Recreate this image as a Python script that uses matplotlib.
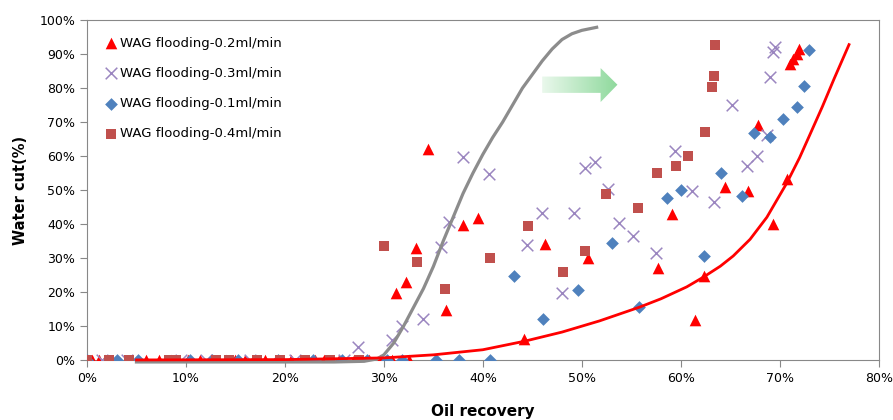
import numpy as np
import matplotlib
matplotlib.use('Agg')
import matplotlib.pyplot as plt
from matplotlib.patches import Polygon
from matplotlib.ticker import PercentFormatter

# WAG flooding-0.2ml/min (red triangles), oil recovery % / water cut %
rec_02 = [0, 0.5, 1.2, 1.8, 6.0, 7.3, 8.5, 10.2, 11.4, 12.5, 14.0, 15.0, 16.0, 18.0,
          20.6, 23.0, 24.0, 25.5, 27.0, 28.5, 29.6, 30.8, 32.5,
          31.2, 32.2, 33.2, 34.5, 36.3, 38.0, 39.5, 44.2, 46.3, 50.6, 57.7, 59.1,
          61.4, 62.3, 64.5, 66.8, 67.8, 69.3, 70.7, 71.0, 71.3, 71.7, 71.9]
wc_02 = [0, 0, 0, 0, 0, 0, 0, 0, 0, 0, 0, 0, 0, 0,
         0, 0, 0, 0, 0, 0, 0, 0, 0,
         19.6, 22.8, 33.0, 62.0, 14.6, 39.8, 41.8, 6.1, 34.0, 30.0, 27.0, 43.0,
         11.9, 24.8, 51.0, 49.8, 69.0, 40.0, 53.3, 87.0, 88.6, 90.0, 91.5]

# WAG flooding-0.3ml/min (purple crosses)
rec_03 = [1.5, 4.0, 9.5, 12.0, 16.5, 21.0, 26.0,
          27.4, 30.8, 31.8, 34.0, 35.8, 36.6, 38.0, 40.6, 44.5, 46.0, 48.0, 49.2,
          50.3, 51.3, 52.6, 53.8, 55.2, 57.5, 59.4, 61.1, 63.4, 65.2, 66.7, 67.7,
          68.7, 69.0, 69.3, 69.5]
wc_03 = [0, 0, 0, 0, 0, 0, 0,
         3.8, 6.0, 10.0, 12.0, 33.2, 40.6, 59.8, 54.6, 33.8, 43.2, 19.8, 43.2,
         56.6, 58.2, 50.2, 40.2, 36.6, 31.4, 61.4, 49.8, 46.4, 75.0, 57.0, 60.0,
         66.2, 83.4, 90.6, 92.2]

# WAG flooding-0.1ml/min (blue diamonds)
rec_01 = [0, 3.0, 5.2, 10.4, 12.6, 15.3, 19.3, 22.8, 25.8, 28.3, 30.3, 31.8,
          35.3, 37.6, 40.7, 43.1, 46.1, 49.6, 53.0, 55.8, 58.6, 60.0, 62.3, 64.1,
          66.2, 67.4, 69.0, 70.3, 71.7, 72.5, 73.0]
wc_01 = [0, 0, 0, 0, 0, 0, 0, 0, 0, 0, 0, 0,
         0, 0, 0, 24.8, 12.0, 20.6, 34.4, 15.5, 47.6, 50.0, 30.6, 55.0,
         48.2, 66.8, 65.6, 70.8, 74.4, 80.6, 91.2]

# WAG flooding-0.4ml/min (brown squares)
rec_04 = [0, 2.2, 4.2, 8.3, 9.0, 13.0, 14.4, 17.2, 19.5, 22.0, 24.6, 27.5,
          30.0, 33.3, 36.2, 40.7, 44.6, 48.1, 50.3, 52.4, 55.7, 57.6, 59.5, 60.7,
          62.4, 63.2, 63.4, 63.5]
wc_04 = [0, 0, 0, 0, 0, 0, 0, 0, 0, 0, 0, 0,
         33.5, 28.8, 21.0, 30.0, 39.4, 25.9, 32.1, 48.8, 44.8, 55.0, 57.1, 60.0,
         67.1, 80.3, 83.5, 92.6]

# grey trend curve (left) and red trend curve (right)
grey_x = [5, 15, 25, 28, 29.3, 30.0, 31, 32, 33, 34, 35, 36, 37, 38, 39, 40,
          41, 42, 43, 44, 45, 46, 47, 48, 49, 50, 51.5]
grey_y = [-0.6, -0.6, -0.6, -0.4, 0.3, 1.5, 5, 10, 15.5, 21, 27.5, 35, 42, 49,
          55, 60.5, 65.5, 70, 75, 80, 84, 88, 91.5, 94.3, 96, 97, 97.9]
red_x = [5, 20, 30, 35, 40, 44.2, 48, 51.8, 55.8, 58, 60.6, 62.3, 64, 65.3, 67,
         68.7, 70.7, 72, 73, 74.3, 75.5, 77]
red_y = [0, 0.1, 0.6, 1.5, 3, 5.5, 8.2, 11.5, 15.5, 18, 21.5, 24.4, 27.6, 30.6, 35.5,
         42, 52, 59.5, 66, 74.5, 82.8, 92.8]

fig = plt.figure(figsize=(8.93, 4.2), dpi=100)
ax = fig.add_axes([0.0974, 0.143, 0.8866, 0.809])

ax.scatter(rec_02, wc_02, marker='^', s=70, color='#FF0000', linewidths=0,
           label='WAG flooding-0.2ml/min', zorder=3)
ax.scatter(rec_03, wc_03, marker='x', s=70, color='#9B86C0', linewidths=1.1,
           label='WAG flooding-0.3ml/min', zorder=3)
ax.scatter(rec_01, wc_01, marker='D', s=42, color='#4F81BD', linewidths=0,
           label='WAG flooding-0.1ml/min', zorder=3)
ax.scatter(rec_04, wc_04, marker='s', s=62, color='#C0504D', linewidths=0,
           label='WAG flooding-0.4ml/min', zorder=3)

ax.plot(grey_x, grey_y, color='#8C8C8C', lw=2.3, zorder=4, clip_on=False)
ax.plot(red_x, red_y, color='#FF0000', lw=2.0, zorder=4, clip_on=False)

# green gradient arrow
arrow = Polygon([(46.0, 78.6), (51.9, 78.6), (51.9, 75.9), (53.6, 81.0),
                 (51.9, 85.9), (51.9, 83.4), (46.0, 83.4)], closed=True,
                facecolor='none', edgecolor='none')
ax.add_patch(arrow)
grad = np.linspace(0, 1, 256).reshape(1, -1)
cmap = matplotlib.colors.LinearSegmentedColormap.from_list('g', ['#EAF8EC', '#8ED99C'])
img = ax.imshow(grad, cmap=cmap, extent=(46.0, 53.6, 75.9, 85.9), aspect='auto',
                zorder=2)
img.set_clip_path(arrow)

ax.set_xlim(0, 80)
ax.set_ylim(0, 100)
ax.set_xticks(np.arange(0, 81, 10))
ax.set_yticks(np.arange(0, 101, 10))
ax.xaxis.set_major_formatter(PercentFormatter(100, decimals=0))
ax.yaxis.set_major_formatter(PercentFormatter(100, decimals=0))
ax.tick_params(colors='#888888', labelcolor='black', labelsize=9, length=5)
for sp in ax.spines.values():
    sp.set_color('#888888')

ax.set_xlabel('Oil recovery', fontsize=11, fontweight='bold', labelpad=14)
ax.set_ylabel('Water cut(%)', fontsize=10.5, fontweight='bold', labelpad=8)

ax.legend(loc='upper left', frameon=False, fontsize=9.5, handletextpad=0.2,
          labelspacing=1.3, borderaxespad=0.6, handlelength=1.0,
          bbox_to_anchor=(0.005, 0.99))

fig.savefig('out.png', dpi=100)
